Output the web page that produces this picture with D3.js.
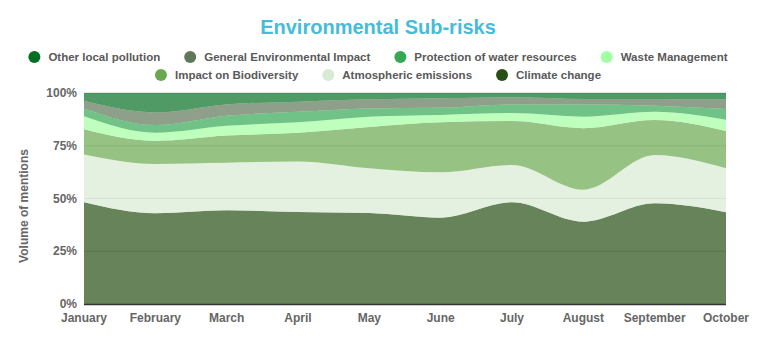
<!DOCTYPE html>
<meta charset="utf-8">
<style>
body { margin: 0; background: #fff; }
text { font-family: "Liberation Sans", Arial, sans-serif; font-weight: bold; }
.tick-label { fill: #666; font-size: 12px; }
.legend text { fill: #595959; font-size: 11.5px; }
</style>
<body>
<script src="https://cdn.jsdelivr.net/npm/d3@7"></script>
<script>
var months = ["January", "February", "March", "April", "May", "June", "July", "August", "September", "October"];

// share of mentions per sub-risk (%)
var climateChange   = [48.2, 43.0, 44.4, 43.6, 43.1, 40.9, 48.2, 39.0, 47.7, 43.5];
var atmospheric     = [22.7, 23.4, 22.6, 23.9, 21.2, 21.5, 17.7, 15.2, 22.9, 20.8];
var biodiversity    = [11.9, 10.9, 12.8, 13.7, 19.6, 23.7, 20.8, 29.1, 16.6, 17.7];
var wasteMgmt       = [6.2, 3.9, 4.7, 4.9, 4.9, 3.5, 3.8, 5.5, 3.9, 5.3];
var waterResources  = [3.7, 3.6, 4.7, 5.0, 3.9, 3.4, 4.1, 5.8, 2.9, 5.1];
var generalImpact   = [3.6, 6.0, 5.4, 4.8, 4.3, 4.5, 3.4, 2.6, 3.2, 4.6];
var otherPollution  = [3.7, 9.2, 5.4, 4.1, 3.0, 2.5, 2.0, 2.8, 2.8, 3.0];

var yTicks = [0, 0.25, 0.5, 0.75, 1];

// bottom to top
var series = [
  {name: "Climate change", color: "#274e13", values: climateChange},
  {name: "Atmospheric emissions", color: "#d9ead3", values: atmospheric},
  {name: "Impact on Biodiversity", color: "#6aa84f", values: biodiversity},
  {name: "Waste Management", color: "#a3ffa3", values: wasteMgmt},
  {name: "Protection of water resources", color: "#34a853", values: waterResources},
  {name: "General Environmental Impact", color: "#5f7858", values: generalImpact},
  {name: "Other local pollution", color: "#046f24", values: otherPollution}
];

var width = 757, height = 339;

var svg = d3.select("body").append("svg")
    .attr("width", width)
    .attr("height", height);

var rows = months.map(function(m, i) {
  var r = {month: m};
  series.forEach(function(s) { r[s.name] = s.values[i]; });
  return r;
});

var stack = d3.stack()
    .keys(series.map(function(s) { return s.name; }))
    .offset(d3.stackOffsetExpand);
var layers = stack(rows);

var x = d3.scalePoint().domain(months).range([84, 726]);
var y = d3.scaleLinear().domain([0, 1]).range([304, 93]);

// gridlines under the translucent areas
svg.append("g").selectAll("line")
    .data(yTicks.slice(1))
  .enter().append("line")
    .attr("x1", 84).attr("x2", 726)
    .attr("y1", function(d) { return y(d); })
    .attr("y2", function(d) { return y(d); })
    .attr("stroke", "#ccc")
    .attr("stroke-width", 1);

var area = d3.area()
    .curve(d3.curveMonotoneX)
    .x(function(d, i) { return x(months[i]); })
    .y0(function(d) { return y(d[0]); })
    .y1(function(d) { return y(d[1]); });

svg.append("g").selectAll("path")
    .data(layers)
  .enter().append("path")
    .attr("d", area)
    .attr("fill", function(d, i) { return series[i].color; })
    .attr("fill-opacity", 0.7);

// x axis baseline
svg.append("line")
    .attr("x1", 84).attr("x2", 726)
    .attr("y1", 304.5).attr("y2", 304.5)
    .attr("stroke", "#333")
    .attr("stroke-width", 1.5);

svg.append("g").selectAll("text")
    .data(months)
  .enter().append("text")
    .attr("class", "tick-label")
    .attr("x", function(d) { return x(d); })
    .attr("y", 322)
    .attr("text-anchor", "middle")
    .text(function(d) { return d; });

svg.append("g").selectAll("text")
    .data(yTicks)
  .enter().append("text")
    .attr("class", "tick-label")
    .attr("x", 77)
    .attr("y", function(d) { return y(d) + 4; })
    .attr("text-anchor", "end")
    .text(function(d) { return d3.format(".0%")(d); });

svg.append("text")
    .attr("class", "tick-label")
    .attr("transform", "translate(28,206)rotate(-90)")
    .attr("text-anchor", "middle")
    .text("Volume of mentions");

svg.append("text")
    .attr("x", 378)
    .attr("y", 34)
    .attr("text-anchor", "middle")
    .attr("fill", "#45bcd8")
    .style("font-size", "20px")
    .text("Environmental Sub-risks");

// legend, top series first, two centred rows
var legendRows = [series.slice(3).reverse(), series.slice(0, 3).reverse()];
var legend = svg.append("g").attr("class", "legend");
legendRows.forEach(function(items, r) {
  var row = legend.append("g");
  var cx = 0;
  items.forEach(function(s, i) {
    var it = row.append("g").attr("transform", "translate(" + cx + ",0)");
    it.append("circle").attr("cx", 6).attr("cy", 0).attr("r", 6).attr("fill", s.color);
    var t = it.append("text").attr("x", 20).attr("y", 4).text(s.name);
    cx += 20 + t.node().getComputedTextLength() + 24;
  });
  var total = cx - 24;
  row.attr("transform", "translate(" + (378 - total / 2) + "," + (57 + r * 18) + ")");
});
</script>
